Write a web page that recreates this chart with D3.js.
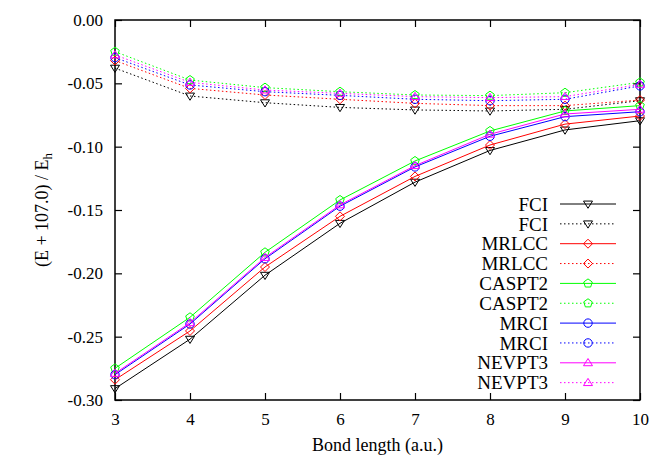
<!DOCTYPE html>
<meta charset="utf-8">
<style>

body {
  margin: 0;
  background: #fff;
}

.axis path,
.axis line {
  fill: none;
  stroke: #000;
  stroke-width: 1.2;
}

.frame {
  fill: none;
  stroke: #000;
  stroke-width: 1.5;
}

</style>
<body>
<script src="https://cdn.jsdelivr.net/npm/d3@7"></script>
<script>

var serif = "'Liberation Serif', 'Times New Roman', Times, 'DejaVu Serif', serif";

// bond lengths (a.u.)
var bondLengths = [3, 4, 5, 6, 7, 8, 9, 10];

// energies, (E + 107.0) / Eh
var fciSolid     = [-0.291, -0.252, -0.2015, -0.1605, -0.128, -0.103, -0.0868, -0.0795];
var fciDotted    = [-0.038, -0.060, -0.0653, -0.069, -0.071, -0.0718, -0.0705, -0.0637];
var mrlccSolid   = [-0.284, -0.2455, -0.195, -0.155, -0.1235, -0.0987, -0.0822, -0.0758];
var mrlccDotted  = [-0.032, -0.054, -0.0592, -0.0626, -0.0658, -0.0676, -0.0676, -0.0632];
var caspt2Solid  = [-0.275, -0.2347, -0.1834, -0.1421, -0.1113, -0.0876, -0.0718, -0.0676];
var caspt2Dotted = [-0.025, -0.0474, -0.0534, -0.0566, -0.0592, -0.0597, -0.0574, -0.0492];
var mrciSolid    = [-0.280, -0.2400, -0.1885, -0.1470, -0.1160, -0.0918, -0.0763, -0.0724];
var mrciDotted   = [-0.0297, -0.0513, -0.0566, -0.0595, -0.0626, -0.0637, -0.0626, -0.052];
var nevpt3Solid  = [-0.279, -0.2390, -0.1875, -0.1460, -0.1150, -0.0902, -0.0742, -0.0705];
var nevpt3Dotted = [-0.0276, -0.0492, -0.0553, -0.0579, -0.0605, -0.0613, -0.0605, -0.0508];

var xTicks = [3, 4, 5, 6, 7, 8, 9, 10];
var yTicks = [0, -0.05, -0.10, -0.15, -0.20, -0.25, -0.30];

var series = [
  {name: "FCI",    values: fciSolid,     color: "#000000", dotted: false, shape: "tridown"},
  {name: "FCI",    values: fciDotted,    color: "#000000", dotted: true,  shape: "tridown"},
  {name: "MRLCC",  values: mrlccSolid,   color: "#ff0000", dotted: false, shape: "diamond"},
  {name: "MRLCC",  values: mrlccDotted,  color: "#ff0000", dotted: true,  shape: "diamond"},
  {name: "CASPT2", values: caspt2Solid,  color: "#00ff00", dotted: false, shape: "pentagon"},
  {name: "CASPT2", values: caspt2Dotted, color: "#00ff00", dotted: true,  shape: "pentagon"},
  {name: "MRCI",   values: mrciSolid,    color: "#0000ff", dotted: false, shape: "circle"},
  {name: "MRCI",   values: mrciDotted,   color: "#0000ff", dotted: true,  shape: "circle"},
  {name: "NEVPT3", values: nevpt3Solid,  color: "#ff00ff", dotted: false, shape: "triup"},
  {name: "NEVPT3", values: nevpt3Dotted, color: "#ff00ff", dotted: true,  shape: "triup"}
];

var margin = {top: 20, right: 13, bottom: 60, left: 115},
    width = 653 - margin.left - margin.right,
    height = 460 - margin.top - margin.bottom;

var x = d3.scaleLinear().domain([3, 10]).range([0, width]);
var y = d3.scaleLinear().domain([-0.30, 0]).range([height, 0]);

var svg = d3.select("body").append("svg")
    .attr("width", 653)
    .attr("height", 460)
    .style("font-family", serif)
  .append("g")
    .attr("transform", "translate(" + margin.left + "," + margin.top + ")");

// axes, ticks pointing inward, mirrored on top / right
svg.append("g")
    .attr("class", "axis")
    .attr("transform", "translate(0," + height + ")")
    .call(d3.axisBottom(x).tickValues(xTicks).tickSize(-7).tickSizeOuter(0).tickPadding(13)
      .tickFormat(d3.format("d")))
    .selectAll("text")
      .style("font-family", serif)
      .style("font-size", "17px")
      .attr("fill", "#000");

svg.append("g")
    .attr("class", "axis")
    .call(d3.axisLeft(y).tickValues(yTicks).tickSize(-7).tickSizeOuter(0).tickPadding(12)
      .tickFormat(function(d) { return d.toFixed(2); }))
    .selectAll("text")
      .style("font-family", serif)
      .style("font-size", "17px")
      .attr("fill", "#000");

svg.append("g")
    .attr("class", "axis")
    .call(d3.axisTop(x).tickValues(xTicks).tickSize(-7).tickSizeOuter(0).tickFormat(""));

svg.append("g")
    .attr("class", "axis")
    .attr("transform", "translate(" + width + ",0)")
    .call(d3.axisRight(y).tickValues(yTicks).tickSize(-7).tickSizeOuter(0).tickFormat(""));

svg.selectAll(".axis path.domain").remove();

svg.append("rect")
    .attr("class", "frame")
    .attr("width", width)
    .attr("height", height);

// axis titles
svg.append("text")
    .attr("x", width / 2)
    .attr("y", height + 51)
    .attr("text-anchor", "middle")
    .style("font-family", serif)
    .style("font-size", "18px")
    .text("Bond length (a.u.)");

var ylab = svg.append("text")
    .attr("transform", "translate(-67," + (height / 2) + ") rotate(-90)")
    .attr("text-anchor", "middle")
    .style("font-family", serif)
    .style("font-size", "18px");
ylab.append("tspan").text("(E + 107.0) / E");
ylab.append("tspan").attr("dy", "0.3em").style("font-size", "13px").text("h");

// marker shapes
function marker(shape) {
  var s = 4.5;
  var pts;
  if (shape == "circle") {
    return d3.symbol().type(d3.symbolCircle).size(Math.PI * 4.2 * 4.2)();
  } else if (shape == "tridown") {
    pts = [[-s, -s * 0.65], [s, -s * 0.65], [0, s * 0.95]];
  } else if (shape == "triup") {
    pts = [[-s, s * 0.65], [s, s * 0.65], [0, -s * 0.95]];
  } else if (shape == "diamond") {
    pts = [[0, -s], [s, 0], [0, s], [-s, 0]];
  } else {
    pts = d3.range(5).map(function(i) {
      var a = -Math.PI / 2 + i * 2 * Math.PI / 5;
      return [s * Math.cos(a), s * Math.sin(a)];
    });
  }
  return "M" + pts.join("L") + "Z";
}

var line = d3.line()
    .x(function(d, i) { return x(bondLengths[i]); })
    .y(function(d) { return y(d); });

var plot = svg.append("g");

series.forEach(function(s) {
  var g = plot.append("g");
  g.append("path")
      .attr("d", line(s.values))
      .attr("fill", "none")
      .attr("stroke", s.color)
      .attr("stroke-width", 1)
      .attr("stroke-dasharray", s.dotted ? "1.5,2.5" : null);
  g.selectAll(".pt")
      .data(s.values)
    .enter().append("path")
      .attr("class", "pt")
      .attr("transform", function(d, i) { return "translate(" + x(bondLengths[i]) + "," + y(d) + ")"; })
      .attr("d", marker(s.shape))
      .attr("fill", "none")
      .attr("stroke", s.color)
      .attr("stroke-width", 1);
});

// legend
var legend = svg.append("g")
    .attr("transform", "translate(" + (548 - margin.left) + "," + (204 - margin.top) + ")");

var rowH = 19.85;

var rows = legend.selectAll(".row")
    .data(series)
  .enter().append("g")
    .attr("class", "row")
    .attr("transform", function(d, i) { return "translate(0," + (i * rowH) + ")"; });

rows.append("text")
    .attr("text-anchor", "end")
    .attr("dy", "0.35em")
    .style("font-family", serif)
    .style("font-size", "19px")
    .text(function(d) { return d.name; });

rows.append("line")
    .attr("x1", 12)
    .attr("x2", 68)
    .attr("stroke", function(d) { return d.color; })
    .attr("stroke-width", 1)
    .attr("stroke-dasharray", function(d) { return d.dotted ? "1.5,2.5" : null; });

rows.append("path")
    .attr("transform", "translate(40,0)")
    .attr("d", function(d) { return marker(d.shape); })
    .attr("fill", "none")
    .attr("stroke", function(d) { return d.color; })
    .attr("stroke-width", 1);

</script>
